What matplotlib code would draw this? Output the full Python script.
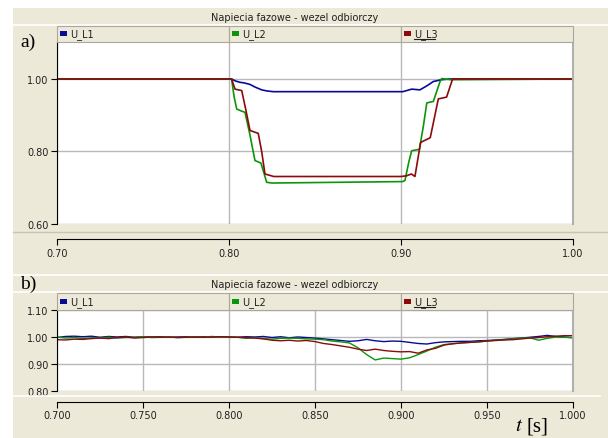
import numpy as np
import matplotlib.pyplot as plt
from matplotlib.patches import Rectangle
from matplotlib.lines import Line2D

# ---- data ----
title = 'Napiecia fazowe - wezel odbiorczy'
series = ['U_L1', 'U_L2', 'U_L3']
colors = ['#0A0A96', '#0A960A', '#8C0A0A']

# panel a) - voltage dip
t_a_L1 = [0.70, 0.8015, 0.8035, 0.8062, 0.809, 0.8122, 0.815, 0.819, 0.822, 0.8258,
          0.901, 0.9033, 0.9062, 0.911, 0.915, 0.9188, 0.9236, 0.9285, 1.00]
u_a_L1 = [1.0, 1.0, 0.995, 0.991, 0.989, 0.985, 0.978, 0.970, 0.967, 0.965,
          0.965, 0.968, 0.972, 0.970, 0.981, 0.993, 0.998, 1.0, 1.0]
t_a_L2 = [0.70, 0.8015, 0.803, 0.8045, 0.807, 0.8093, 0.812, 0.8151, 0.8186, 0.8219, 0.825,
          0.901, 0.9023, 0.9045, 0.9062, 0.9107, 0.913, 0.915, 0.9188, 0.9227, 0.9236, 0.929, 1.00]
u_a_L2 = [1.0, 1.0, 0.95, 0.917, 0.912, 0.908, 0.85, 0.775, 0.768, 0.715, 0.713,
          0.717, 0.72, 0.77, 0.802, 0.806, 0.87, 0.934, 0.938, 0.993, 1.001, 0.998, 1.0]
t_a_L3 = [0.70, 0.8015, 0.8035, 0.8074, 0.810, 0.8122, 0.817, 0.819, 0.8209, 0.826,
          0.90, 0.9033, 0.906, 0.9081, 0.9114, 0.917, 0.9217, 0.9265, 0.930, 1.00]
u_a_L3 = [1.0, 1.0, 0.972, 0.968, 0.91, 0.858, 0.850, 0.80, 0.738, 0.731,
          0.731, 0.733, 0.738, 0.731, 0.825, 0.838, 0.945, 0.950, 1.0, 1.0]

# panel b) - samples every 5 ms
t_b = [round(0.700 + 0.005 * i, 3) for i in range(61)]
u_b_L1 = [0.998, 1.002, 1.003, 1.001, 1.003, 0.999, 1.002, 1.000, 1.002, 0.999,
          1.001, 1.000, 1.001, 0.999, 1.000, 1.001, 0.999, 1.001, 1.000, 1.001,
          1.000, 0.999, 1.001, 1.000, 1.002, 0.998, 1.001, 0.997, 1.000, 0.998,
          0.996, 0.993, 0.990, 0.987, 0.984, 0.986, 0.991, 0.986, 0.983, 0.985,
          0.984, 0.980, 0.976, 0.974, 0.979, 0.982, 0.983, 0.984, 0.984, 0.986,
          0.987, 0.989, 0.991, 0.994, 0.996, 0.999, 1.002, 1.006, 1.002, 1.000, 0.997]
u_b_L2 = [1.000, 0.996, 0.998, 0.994, 0.997, 0.996, 0.999, 0.996, 0.998, 0.999,
          1.001, 0.998, 0.999, 1.000, 0.998, 0.999, 1.001, 0.999, 1.002, 1.000,
          1.000, 0.999, 0.995, 0.997, 0.994, 0.992, 0.995, 0.996, 0.995, 0.993,
          0.992, 0.990, 0.985, 0.982, 0.978, 0.960, 0.935, 0.915, 0.922, 0.920,
          0.918, 0.923, 0.935, 0.948, 0.962, 0.972, 0.975, 0.978, 0.980, 0.982,
          0.985, 0.988, 0.990, 0.993, 0.996, 0.997, 0.988, 0.995, 1.000, 0.999, 0.998]
u_b_L3 = [0.990, 0.989, 0.992, 0.991, 0.994, 0.996, 0.994, 0.998, 1.000, 0.996,
          0.998, 1.000, 0.999, 1.000, 0.998, 0.999, 1.000, 0.999, 1.000, 1.001,
          1.000, 0.999, 0.998, 0.996, 0.993, 0.988, 0.986, 0.988, 0.985, 0.987,
          0.983, 0.976, 0.972, 0.967, 0.962, 0.955, 0.950, 0.955, 0.950, 0.947,
          0.945, 0.946, 0.940, 0.952, 0.958, 0.970, 0.975, 0.978, 0.980, 0.982,
          0.985, 0.987, 0.989, 0.990, 0.993, 0.996, 0.998, 1.001, 1.003, 1.005, 1.005]

W, H = 608, 439
BEIGE = '#ECE9D8'
EDGE = '#ACA899'
GRID = '#B8B8B8'


def fx(x):
    return x / W


def fy(y):
    return 1 - y / H


fig = plt.figure(figsize=(W / 100, H / 100), dpi=100, facecolor='white')
fig.add_artist(Rectangle((fx(13), 0), fx(W - 13), fy(9), transform=fig.transFigure,
                         facecolor=BEIGE, edgecolor='none', zorder=0))


def hline(y, x0, x1, color, lw=1.0):
    fig.add_artist(Line2D([fx(x0), fx(x1)], [fy(y), fy(y)], transform=fig.transFigure,
                          color=color, lw=lw, zorder=1))


def header(ytitle, yleg0, yleg1, label, ylabel):
    # title bar text and panel label
    fig.text(fx(295), fy((ytitle + yleg0) / 2), title, ha='center', va='center',
             fontsize=7, color='#202020')
    hline(yleg0 - 1, 13, W, 'white', 1.2)
    fig.text(fx(20), fy(ylabel), label, ha='left', va='center', fontsize=14,
             family='Liberation Serif')
    # legend cells
    cells = [57, 229, 401, 573]
    for i in range(3):
        fig.add_artist(Rectangle((fx(cells[i]), fy(yleg1)), fx(cells[i + 1] - cells[i]),
                                 fy(yleg0) - fy(yleg1), transform=fig.transFigure,
                                 facecolor=BEIGE, edgecolor=EDGE, lw=0.8, zorder=1))
        ym = (yleg0 + yleg1) / 2
        fig.add_artist(Rectangle((fx(cells[i] + 3), fy(ym + 2)), fx(7), fy(ym - 3) - fy(ym + 2),
                                 transform=fig.transFigure, facecolor=colors[i],
                                 edgecolor='none', zorder=2))
        fig.text(fx(cells[i] + 13), fy(ym), series[i], ha='left', va='center',
                 fontsize=7, color='#202020', zorder=3)
    # U_L3 is underlined in the original
    hline((yleg0 + yleg1) / 2 + 5, cells[2] + 13, cells[2] + 34, '#202020', 0.8)


def style_axes(ax, outward):
    ax.set_facecolor('white')
    ax.spines['top'].set_visible(False)
    ax.spines['right'].set_color('#B0B0B0')
    ax.spines['right'].set_linewidth(1.5)
    ax.spines['left'].set_color('black')
    ax.spines['bottom'].set_color('black')
    ax.spines['bottom'].set_position(('outward', outward))
    ax.tick_params(axis='both', labelsize=7, length=4, width=0.8, colors='black',
                   labelcolor='#202020', pad=2)
    ax.grid(True, color=GRID, lw=1.0)
    ax.set_axisbelow(True)


# ---- panel a) ----
header(9, 27, 43, 'a)', 42)
ax1 = fig.add_axes([fx(57), fy(225), fx(573 - 57), fy(43) - fy(225)])
for t, u, c in zip([t_a_L1, t_a_L2, t_a_L3], [u_a_L1, u_a_L2, u_a_L3], colors):
    ax1.plot(t, u, color=c, lw=1.2)
ax1.set_xlim(0.70, 1.00)
ax1.set_ylim(0.60, 1.102)
ax1.set_xticks([0.70, 0.80, 0.90, 1.00])
ax1.set_yticks([0.60, 0.80, 1.00])
ax1.set_xticklabels(['0.70', '0.80', '0.90', '1.00'])
ax1.set_yticklabels(['0.60', '0.80', '1.00'])
style_axes(ax1, 11)
hline(233, 13, W, '#C8C5B4', 1.0)

# ---- panel b) ----
hline(276, 13, W, 'white', 1.2)
header(276, 294, 311, 'b)', 284)
ax2 = fig.add_axes([fx(57), fy(392), fx(573 - 57), fy(311) - fy(392)])
for u, c in zip([u_b_L1, u_b_L2, u_b_L3], colors):
    ax2.plot(t_b, u, color=c, lw=1.0)
ax2.set_xlim(0.70, 1.00)
ax2.set_ylim(0.80, 1.10)
xt = [0.70, 0.75, 0.80, 0.85, 0.90, 0.95, 1.00]
ax2.set_xticks(xt)
ax2.set_xticklabels(['%.3f' % v for v in xt])
ax2.set_yticks([0.80, 0.90, 1.00, 1.10])
ax2.set_yticklabels(['0.80', '0.90', '1.00', '1.10'])
style_axes(ax2, 8)
hline(397, 13, W - 8, 'white', 1.2)

fig.text(fx(515), fy(427), r'$t$', ha='left', va='center', fontsize=15,
         family='Liberation Serif', math_fontfamily='stix')
fig.text(fx(526), fy(427), '[s]', ha='left', va='center', fontsize=15,
         family='Liberation Serif')

fig.savefig('out.png', dpi=100, facecolor='white')
